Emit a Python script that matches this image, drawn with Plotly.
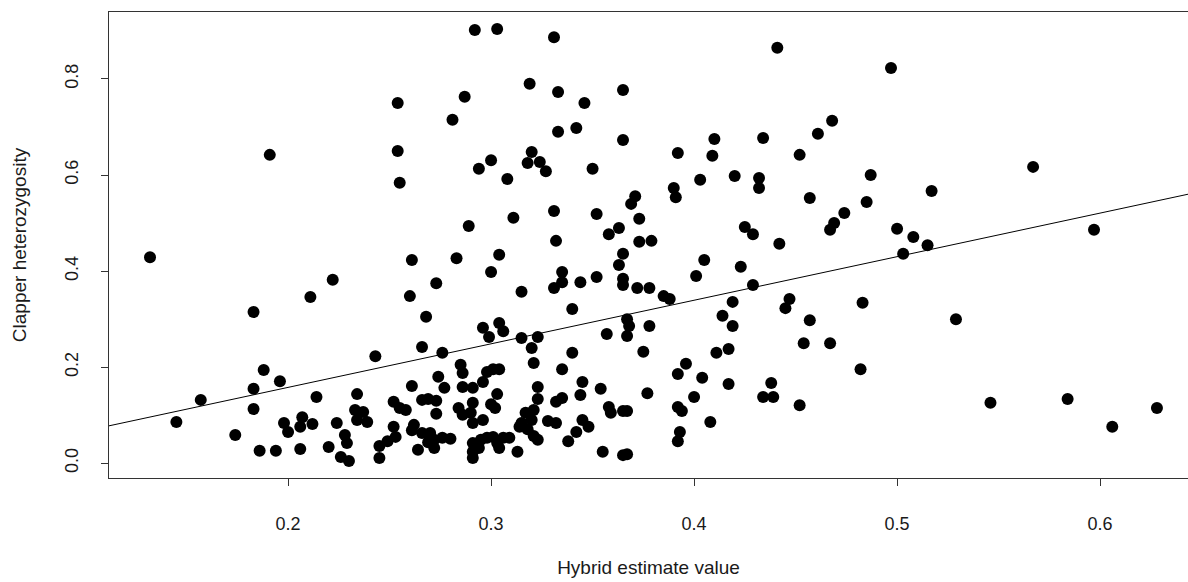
import plotly.graph_objects as go

# Hybrid index estimate for each bird and its heterozygosity at the clapper markers
hybrid_estimate = [
    0.132, 0.191, 0.222, 0.211, 0.183, 0.188, 0.196, 0.183, 0.157, 0.214,
    0.183, 0.145, 0.198, 0.207, 0.206, 0.200, 0.212, 0.224, 0.174, 0.186,
    0.194, 0.206, 0.220,
    0.261, 0.283, 0.273, 0.260, 0.268, 0.296, 0.243, 0.266, 0.276, 0.285,
    0.286, 0.274, 0.277, 0.261, 0.234, 0.286, 0.291, 0.296, 0.252, 0.255,
    0.258, 0.266, 0.269, 0.273, 0.233, 0.237, 0.234, 0.239, 0.273, 0.284,
    0.286, 0.291, 0.290, 0.296, 0.291, 0.228, 0.229, 0.226, 0.230, 0.252,
    0.262, 0.261, 0.253, 0.249, 0.245, 0.245, 0.264, 0.266, 0.270, 0.272,
    0.269, 0.272, 0.276, 0.280, 0.291, 0.291, 0.291, 0.295, 0.294, 0.298,
    0.301, 0.300, 0.303, 0.302, 0.298, 0.301,
    0.304, 0.300, 0.335, 0.331, 0.335, 0.344, 0.352, 0.315, 0.365, 0.363,
    0.365, 0.365, 0.340, 0.299, 0.304, 0.306, 0.315, 0.323, 0.320, 0.321,
    0.340, 0.357, 0.304, 0.335, 0.345, 0.323, 0.354, 0.344, 0.335, 0.332,
    0.323, 0.358, 0.359, 0.365, 0.321, 0.317, 0.320, 0.315, 0.314, 0.318,
    0.328, 0.332, 0.345, 0.348, 0.342, 0.321, 0.323, 0.338, 0.309, 0.306,
    0.303, 0.304, 0.313, 0.355, 0.365,
    0.292, 0.303, 0.331, 0.319, 0.333, 0.287, 0.254, 0.281, 0.333, 0.254,
    0.320, 0.300, 0.294, 0.318, 0.324, 0.327, 0.308, 0.255, 0.331, 0.311,
    0.289, 0.332,
    0.441, 0.365, 0.346, 0.342, 0.365, 0.410, 0.434, 0.392, 0.409, 0.452,
    0.350, 0.403, 0.420, 0.432, 0.432, 0.390, 0.391, 0.371, 0.369, 0.352,
    0.373, 0.363, 0.358, 0.373, 0.379, 0.425, 0.429, 0.442,
    0.497, 0.468, 0.461, 0.487, 0.457, 0.517, 0.485, 0.474, 0.469, 0.467,
    0.500, 0.508, 0.515, 0.567, 0.597, 0.503,
    0.405, 0.423, 0.401, 0.372, 0.378, 0.385, 0.388, 0.429, 0.419, 0.447,
    0.445, 0.414, 0.419, 0.367, 0.368, 0.367, 0.378, 0.454, 0.375, 0.411,
    0.417, 0.396, 0.392, 0.404, 0.417, 0.438, 0.434, 0.439, 0.452, 0.377,
    0.400, 0.392, 0.394, 0.367, 0.408, 0.393, 0.392, 0.367,
    0.483, 0.457, 0.529, 0.467, 0.482, 0.546, 0.584, 0.606, 0.628,
]

clapper_het = [
    0.429, 0.642, 0.382, 0.346, 0.315, 0.194, 0.171, 0.155, 0.132, 0.138,
    0.113, 0.086, 0.084, 0.096, 0.076, 0.065, 0.082, 0.084, 0.059, 0.026,
    0.026, 0.030, 0.034,
    0.423, 0.427, 0.375, 0.348, 0.305, 0.282, 0.223, 0.242, 0.230, 0.205,
    0.188, 0.180, 0.157, 0.161, 0.144, 0.159, 0.157, 0.169, 0.128, 0.115,
    0.111, 0.132, 0.134, 0.130, 0.111, 0.107, 0.090, 0.086, 0.103, 0.115,
    0.101, 0.126, 0.105, 0.090, 0.084, 0.059, 0.042, 0.013, 0.005, 0.076,
    0.080, 0.069, 0.055, 0.046, 0.036, 0.011, 0.028, 0.063, 0.063, 0.049,
    0.044, 0.032, 0.053, 0.051, 0.042, 0.024, 0.011, 0.049, 0.032, 0.190,
    0.196, 0.123, 0.144, 0.115, 0.053, 0.055,
    0.434, 0.398, 0.398, 0.365, 0.377, 0.377, 0.388, 0.357, 0.436, 0.413,
    0.384, 0.371, 0.321, 0.263, 0.292, 0.275, 0.261, 0.263, 0.240, 0.209,
    0.230, 0.269, 0.196, 0.196, 0.169, 0.159, 0.155, 0.142, 0.136, 0.128,
    0.134, 0.117, 0.105, 0.109, 0.111, 0.105, 0.090, 0.084, 0.076, 0.071,
    0.088, 0.084, 0.090, 0.076, 0.065, 0.057, 0.049, 0.046, 0.053, 0.053,
    0.042, 0.032, 0.024, 0.024, 0.017,
    0.902, 0.904, 0.887, 0.790, 0.773, 0.763, 0.750, 0.715, 0.690, 0.650,
    0.648, 0.631, 0.613, 0.625, 0.627, 0.608, 0.592, 0.584, 0.525, 0.511,
    0.494, 0.463,
    0.865, 0.777, 0.750, 0.698, 0.673, 0.675, 0.677, 0.646, 0.640, 0.642,
    0.613, 0.590, 0.598, 0.594, 0.573, 0.573, 0.554, 0.556, 0.540, 0.519,
    0.509, 0.490, 0.477, 0.461, 0.463, 0.492, 0.477, 0.457,
    0.823, 0.713, 0.686, 0.600, 0.552, 0.567, 0.544, 0.521, 0.500, 0.486,
    0.488, 0.471, 0.454, 0.617, 0.486, 0.436,
    0.423, 0.409, 0.390, 0.365, 0.365, 0.348, 0.342, 0.371, 0.336, 0.342,
    0.323, 0.307, 0.286, 0.300, 0.286, 0.265, 0.286, 0.250, 0.232, 0.230,
    0.238, 0.207, 0.186, 0.178, 0.165, 0.167, 0.138, 0.138, 0.121, 0.146,
    0.138, 0.117, 0.109, 0.109, 0.086, 0.065, 0.046, 0.019,
    0.334, 0.298, 0.300, 0.250, 0.196, 0.126, 0.134, 0.076, 0.115,
]

# Least-squares line drawn across the panel
fit_intercept = -0.0234
fit_slope = 0.907

x_ticks = [0.2, 0.3, 0.4, 0.5, 0.6]
x_tick_labels = ["0.2", "0.3", "0.4", "0.5", "0.6"]
y_ticks = [0.0, 0.2, 0.4, 0.6, 0.8]
y_tick_labels = ["0.0", "0.2", "0.4", "0.6", "0.8"]

x_range = [0.1118, 0.6433]
y_range = [-0.0306, 0.9394]

font_family = "Liberation Sans, Arial, sans-serif"
ink = "#1a1a1a"

fig = go.Figure()

fig.add_trace(go.Scatter(
    x=hybrid_estimate,
    y=clapper_het,
    mode="markers",
    marker=dict(size=12, color="black", line=dict(width=0)),
    hoverinfo="x+y",
    showlegend=False,
))

line_x = list(x_range)
line_y = [fit_intercept + fit_slope * v for v in line_x]
fig.add_trace(go.Scatter(
    x=line_x,
    y=line_y,
    mode="lines",
    line=dict(color="black", width=1),
    hoverinfo="skip",
    showlegend=False,
))

fig.update_layout(
    width=1188,
    height=582,
    margin=dict(l=109, r=0, t=12, b=104),
    paper_bgcolor="white",
    plot_bgcolor="white",
    font=dict(family=font_family, size=18, color=ink),
    xaxis=dict(
        range=x_range,
        tickvals=x_ticks,
        ticktext=x_tick_labels,
        showgrid=False,
        zeroline=False,
        showline=True,
        linecolor="#333",
        linewidth=1,
        mirror=True,
        ticks="outside",
        ticklen=7,
        tickcolor="#333",
        ticklabelstandoff=22,
        tickfont=dict(size=18, color=ink),
        title=dict(text="Hybrid estimate value", font=dict(size=19, color=ink), standoff=28),
    ),
    yaxis=dict(
        range=y_range,
        tickvals=y_ticks,
        ticktext=y_tick_labels,
        showgrid=False,
        zeroline=False,
        showline=True,
        linecolor="#333",
        linewidth=1,
        mirror=False,
        ticks="outside",
        ticklen=7,
        tickcolor="#333",
        tickangle=-90,
        ticklabelstandoff=16,
        tickfont=dict(size=18, color=ink),
        title=dict(text="Clapper heterozygosity", font=dict(size=19, color=ink), standoff=30),
    ),
)

fig.write_html("out.html")
